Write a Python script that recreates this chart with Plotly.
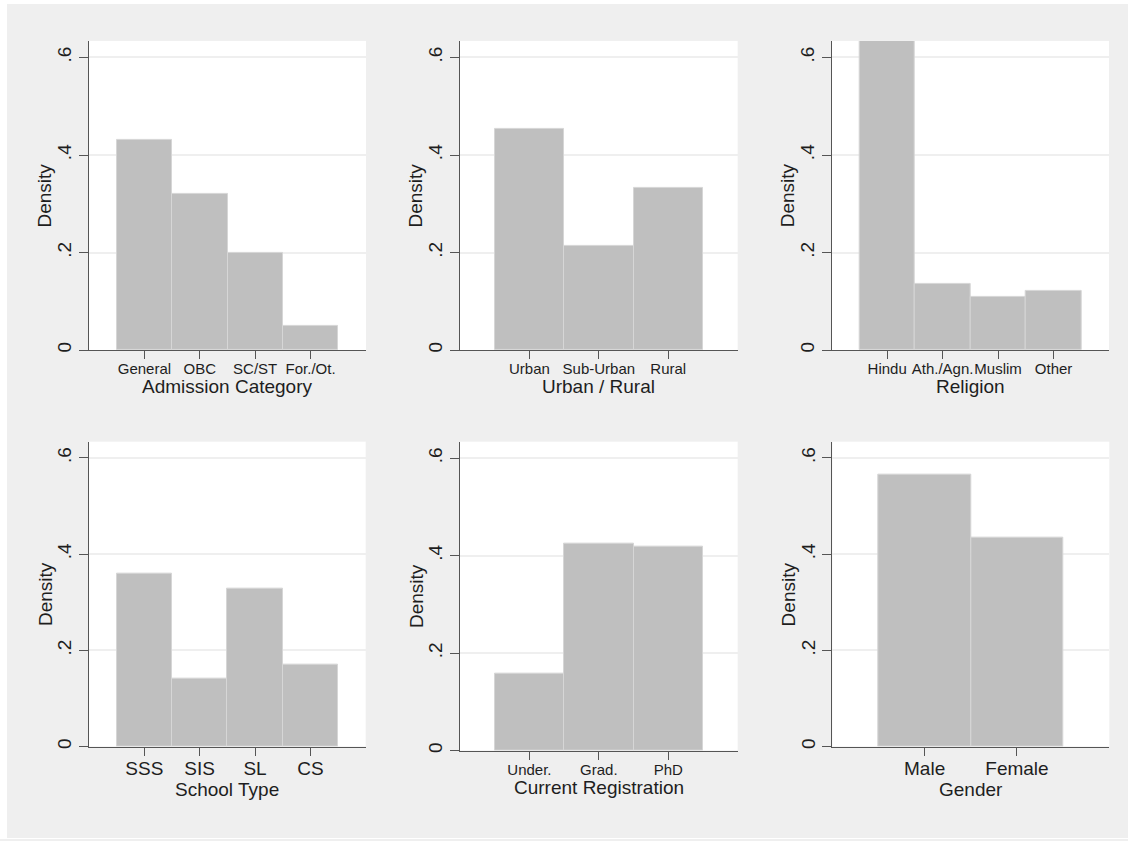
import plotly.graph_objects as go

# ---- data: density of each category ----
admission_cats = ["General", "OBC", "SC/ST", "For./Ot."]
admission_density = [0.432, 0.320, 0.200, 0.049]

urban_cats = ["Urban", "Sub-Urban", "Rural"]
urban_density = [0.454, 0.214, 0.332]

religion_cats = ["Hindu", "Ath./Agn.", "Muslim", "Other"]
religion_density = [0.634, 0.136, 0.109, 0.122]

school_cats = ["SSS", "SIS", "SL", "CS"]
school_density = [0.360, 0.142, 0.328, 0.170]

registration_cats = ["Under.", "Grad.", "PhD"]
registration_density = [0.157, 0.424, 0.419]

gender_cats = ["Male", "Female"]
gender_density = [0.565, 0.435]

y_tickvals = [0, 0.2, 0.4, 0.6]
y_ticktext = ["0", ".2", ".4", ".6"]

# ---- page geometry (pixels) ----
W, H = 1128, 841
FONT = "Liberation Sans, Arial, Helvetica, sans-serif"
BG = "#efefef"
BAR = "#bfbfbf"
BAR_EDGE = "#d6d6d6"
AXIS = "#555555"
GRID = "#efefef"
TEXT = "#1e1e1e"

# (title, categories, values, x0, x1, top, zero, tick font size, title centre y)
panels = [
    ("Admission Category", admission_cats, admission_density, 89, 366, 41, 351, 15, 387),
    ("Urban / Rural", urban_cats, urban_density, 460, 737.7, 41, 351, 15, 387),
    ("Religion", religion_cats, religion_density, 831.7, 1109, 41, 351, 15, 387),
    ("School Type", school_cats, school_density, 89, 365.7, 442.7, 748.3, 19, 791),
    ("Current Registration", registration_cats, registration_density, 460, 737.7, 442.7, 752.3, 15, 789),
    ("Gender", gender_cats, gender_density, 832.3, 1109.3, 442.7, 748.3, 19, 791),
]

y_max = max(max(p[2]) for p in panels)

fig = go.Figure()
layout = dict(
    width=W,
    height=H,
    margin=dict(l=0, r=0, t=0, b=0),
    paper_bgcolor=BG,
    plot_bgcolor="white",
    showlegend=False,
    font=dict(family=FONT, color=TEXT),
    bargap=0,
)
annotations = []
shapes = [
    # thin white frame around the grey graph region
    dict(type="rect", xref="paper", yref="paper", x0=0, x1=7 / W, y0=0, y1=1,
         fillcolor="white", line_width=0, layer="below"),
    dict(type="rect", xref="paper", yref="paper", x0=0, x1=1, y0=1 - 4 / H, y1=1,
         fillcolor="white", line_width=0, layer="below"),
    dict(type="rect", xref="paper", yref="paper", x0=0, x1=1, y0=0, y1=1 - 840 / H,
         fillcolor="white", line_width=0, layer="below"),
]

for i, (title, cats, vals, x0, x1, top, zero, tick_fs, title_y) in enumerate(panels, start=1):
    xs = list(range(1, len(cats) + 1))
    sfx = "" if i == 1 else str(i)
    fig.add_trace(go.Bar(
        x=xs, y=vals, width=1,
        marker=dict(color=BAR, line=dict(color=BAR_EDGE, width=1)),
        xaxis="x" + sfx, yaxis="y" + sfx,
        hoverinfo="skip",
    ))
    layout["xaxis" + sfx] = dict(
        domain=[x0 / W, x1 / W],
        anchor="y" + sfx,
        range=[0, len(cats) + 1],
        tickvals=xs, ticktext=cats,
        tickangle=0,
        ticks="outside", ticklen=8, tickwidth=1.2, tickcolor=AXIS,
        ticklabelstandoff=-3,
        showline=True, linecolor=AXIS, linewidth=1.3,
        showgrid=False, zeroline=False,
        tickfont=dict(size=tick_fs, family=FONT, color=TEXT),
        fixedrange=True,
    )
    layout["yaxis" + sfx] = dict(
        domain=[1 - zero / H, 1 - top / H],
        anchor="x" + sfx,
        range=[0, y_max],
        tickvals=y_tickvals, ticktext=y_ticktext,
        tickangle=-90,
        ticks="outside", ticklen=9, tickwidth=1.2, tickcolor=AXIS,
        showline=True, linecolor=AXIS, linewidth=1.3,
        showgrid=True, gridcolor=GRID, gridwidth=1.5,
        zeroline=False,
        tickfont=dict(size=19, family=FONT, color=TEXT),
        fixedrange=True,
    )
    # x-axis title
    annotations.append(dict(
        text=title, xref="paper", yref="paper",
        x=(x0 + x1) / 2 / W, y=1 - title_y / H,
        xanchor="center", yanchor="middle", showarrow=False,
        font=dict(size=19, family=FONT, color=TEXT),
    ))
    # y-axis title
    annotations.append(dict(
        text="Density", xref="paper", yref="paper",
        x=(x0 - 44) / W, y=1 - (top + zero) / 2 / H,
        xanchor="center", yanchor="middle", showarrow=False, textangle=-90,
        font=dict(size=19, family=FONT, color=TEXT),
    ))

layout["annotations"] = annotations
layout["shapes"] = shapes
fig.update_layout(**layout)
fig.write_html("out.html")
